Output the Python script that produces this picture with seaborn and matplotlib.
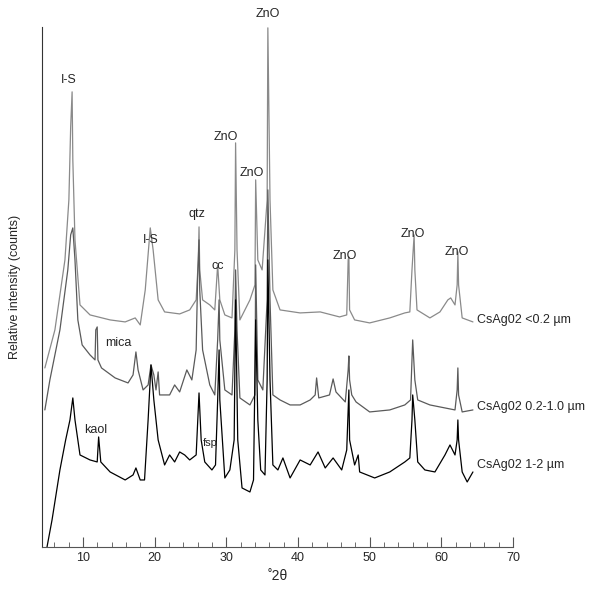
import numpy as np
import pandas as pd
import matplotlib
matplotlib.use("Agg")
import matplotlib.pyplot as plt
import seaborn as sns
from matplotlib.ticker import MultipleLocator

# traces: 2theta (deg) and relative intensity
fine_x = [4.7, 6.1, 7.5, 8.05, 8.3, 8.5, 8.6, 8.9, 9.6, 11.0, 13.8, 15.9, 17.3, 18.0, 18.7, 19.4, 19.8,
          20.5, 21.4, 23.5, 24.9, 25.8, 26.1, 26.2, 26.3, 26.7, 27.7, 28.4, 28.8, 29.1, 29.8, 30.8, 31.2,
          31.3, 31.5, 31.9, 33.3, 34.0, 34.1, 34.4, 35.0, 35.7, 35.8, 36.1, 36.5, 37.5, 40.3, 43.1, 45.8,
          46.8, 47.0, 47.1, 47.2, 47.9, 50.0, 52.8, 54.9, 55.6, 55.9, 56.2, 56.3, 56.6, 58.4, 59.8, 60.9,
          61.3, 61.9, 62.2, 62.3, 62.4, 62.9, 64.4]
fine_y = [179, 217, 287, 347, 420, 455, 387, 307, 242, 232, 227, 225, 229, 222, 257, 319, 297,
          247, 235, 233, 237, 247, 287, 320, 277, 247, 242, 237, 282, 247, 232, 229, 297,
          404, 297, 227, 247, 262, 367, 287, 277, 347, 519, 347, 257, 237, 234, 235, 230,
          232, 287, 290, 237, 227, 224, 229, 234, 235, 277, 312, 277, 237, 229, 235, 247,
          249, 242, 262, 295, 262, 229, 225]

mid_x = [4.7, 5.4, 6.8, 7.9, 8.3, 8.6, 8.9, 9.3, 9.9, 11.0, 11.7, 11.8, 12.0, 12.1, 12.6, 14.5, 16.3,
         17.0, 17.4, 17.7, 18.4, 19.1, 19.5, 19.9, 20.2, 20.5, 20.7, 22.1, 22.8, 23.5, 24.5, 25.2, 25.8,
         26.0, 26.2, 26.3, 26.7, 27.7, 28.4, 28.8, 29.0, 29.1, 29.8, 30.8, 31.2, 31.3, 31.5, 31.9, 33.3,
         34.0, 34.1, 34.4, 35.1, 35.7, 35.8, 36.1, 36.5, 37.5, 38.9, 40.3, 41.7, 42.4, 42.6, 42.9, 44.4,
         44.9, 45.3, 46.6, 47.0, 47.1, 47.2, 47.5, 48.1, 50.0, 52.8, 54.9, 55.7, 56.0, 56.3, 56.7, 58.4,
         60.5, 61.9, 62.2, 62.3, 62.4, 62.9, 64.4]
mid_y = [137, 167, 217, 277, 312, 319, 287, 227, 202, 192, 187, 217, 220, 187, 179, 169, 164,
         172, 195, 177, 157, 162, 182, 172, 157, 175, 152, 152, 162, 155, 177, 167, 197,
         267, 307, 257, 197, 162, 152, 207, 247, 207, 157, 152, 217, 277, 217, 149, 142,
         152, 282, 167, 157, 247, 357, 247, 152, 147, 142, 142, 147, 152, 169, 149, 152,
         168, 155, 145, 177, 191, 167, 152, 145, 135, 137, 142, 147, 207, 167, 147, 142,
         139, 137, 157, 179, 152, 135, 137]

coarse_x = [5.0, 5.7, 6.8, 7.6, 8.2, 8.6, 8.9, 9.6, 11.0, 12.0, 12.2, 12.5, 13.8, 15.9, 17.0, 17.4, 18.0,
            18.6, 19.1, 19.5, 19.9, 20.5, 21.4, 22.1, 22.8, 23.5, 24.2, 24.9, 25.8, 26.2, 26.5, 27.0, 28.0,
            28.5, 28.8, 29.0, 29.1, 29.8, 30.5, 31.1, 31.3, 31.6, 32.2, 33.3, 33.8, 34.1, 34.4, 34.8, 35.4,
            35.7, 35.8, 36.1, 36.5, 37.2, 37.9, 38.9, 40.3, 41.7, 42.8, 43.8, 44.9, 46.1, 46.8, 47.1, 47.2,
            47.9, 48.4, 48.6, 50.7, 52.8, 54.9, 55.6, 55.9, 56.0, 56.3, 56.7, 57.7, 59.1, 60.5, 61.2, 61.9,
            62.2, 62.3, 62.4, 62.9, 63.6, 64.4]
coarse_y = [0, 27, 77, 107, 127, 149, 127, 92, 87, 85, 110, 85, 75, 67, 72, 79, 67,
            67, 127, 182, 147, 107, 82, 92, 85, 95, 92, 87, 92, 154, 107, 85, 77,
            82, 147, 197, 147, 69, 77, 107, 247, 107, 59, 55, 67, 227, 127, 77, 72,
            167, 287, 167, 82, 77, 89, 69, 87, 82, 95, 79, 89, 77, 97, 157, 107,
            82, 92, 75, 69, 75, 85, 89, 127, 152, 127, 85, 77, 75, 92, 102, 92,
            107, 127, 107, 75, 65, 75]

sample_names = ["CsAg02 <0.2 µm", "CsAg02 0.2-1.0 µm", "CsAg02 1-2 µm"]
sample_label_y = [227, 140, 82]
trace_colors = ["#8a8a8a", "#5a5a5a", "#000000"]

# phase labels: text, 2theta, intensity (text centre)
phase_text = ["I-S", "I-S", "qtz", "cc", "ZnO", "ZnO", "ZnO", "ZnO", "ZnO", "ZnO", "mica", "kaol", "fsp"]
phase_x = [8.0, 19.5, 25.9, 28.8, 29.9, 33.6, 35.8, 46.5, 56.0, 62.2, 14.9, 11.8, 27.7]
phase_y = [467, 307, 333, 281, 410, 374, 533, 291, 313, 295, 204, 117, 104]

sns.set_style("white")
plt.rcParams["font.family"] = "Liberation Sans"
fig = plt.figure(figsize=(6.13, 6.02), dpi=100)
ax = fig.add_axes([0.0685, 0.0914, 0.7685, 0.864])

traces = [(fine_x, fine_y), (mid_x, mid_y), (coarse_x, coarse_y)]
for (xs, ys), col in zip(traces, trace_colors):
    df = pd.DataFrame({"x": xs, "y": ys})
    sns.lineplot(data=df, x="x", y="y", ax=ax, color=col, linewidth=0.9, sort=False)

for name, yy in zip(sample_names, sample_label_y):
    ax.text(65.0, yy, name, ha="left", va="center", fontsize=9, clip_on=False)
for t, xx, yy in zip(phase_text, phase_x, phase_y):
    ax.text(xx, yy, t, ha="center", va="center", fontsize=9 if t != "fsp" else 8, clip_on=False)

ax.set_xlim(4.3, 70)
ax.set_ylim(0, 520)
ax.set_xticks([10, 20, 30, 40, 50, 60, 70])
ax.xaxis.set_minor_locator(MultipleLocator(2))
ax.tick_params(axis="x", which="both", bottom=True, direction="in", color="#555555")
ax.tick_params(axis="x", which="major", length=7, width=0.8, labelsize=9)
ax.tick_params(axis="x", which="minor", length=3.5, width=0.6)
ax.set_yticks([])
ax.set_xlabel("˚2θ", fontsize=10)
ax.set_ylabel("Relative intensity (counts)", fontsize=9)
ax.yaxis.set_label_coords(-0.045, 0.5)
sns.despine(ax=ax)
ax.spines["left"].set_color("#333333")
ax.spines["bottom"].set_color("#555555")

fig.savefig("out.png", dpi=100)
